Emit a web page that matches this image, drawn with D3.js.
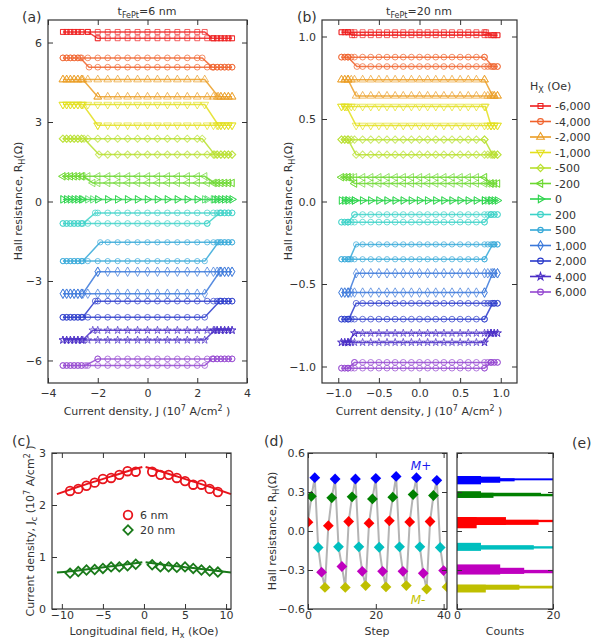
<!DOCTYPE html>
<html>
<head>
<meta charset="utf-8">
<script src="https://cdn.jsdelivr.net/npm/d3@7"></script>
<style>
body { margin: 0; background: #fff; }
text { font-family: "DejaVu Sans", sans-serif; fill: #333; }
.axis text { font-size: 11px; fill: #333; }
.lab { font-size: 11px; }
.plab { font-size: 14px; }
</style>
</head>
<body>
<div id="chart"></div>
<script>
// ---- data: panels (a) and (b), one loop per longitudinal field
const hxLabels = ["-6,000","-4,000","-2,000","-1,000","-500","-200","0","200","500","1,000","2,000","4,000","6,000"];
const hxColors = ["#ee1f1f","#f0622c","#eb9d24","#e3df1c","#b7e02c","#6cd830","#2cd44c","#3cd2c8","#34a8d8","#3a78da","#2a3acb","#4a2ec6","#9446d0"];

// level at the negative-current end and at the positive-current end (ohm)
const aLeftLevel  = [6.40, 5.42, 4.60, 3.66, 2.37, 0.95, 0.08, -0.83, -2.25, -3.48, -4.37, -5.23, -6.19];
const aRightLevel = [6.16, 5.07, 3.95, 2.88, 1.77, 0.70, 0.08, -0.43, -1.54, -2.65, -3.76, -4.86, -5.94];
// switching on the up sweep (start, end) and on the down sweep (start, end), 10^7 A/cm2
const aUpSwitch   = [[2.3,2.6],[2.2,2.6],[2.3,2.85],[2.3,2.85],[2.2,2.7],[2.3,2.7],[2.3,2.7],[2.4,2.9],[2.3,2.85],[2.3,2.9],[2.3,2.9],[2.3,2.7],[2.3,2.6]];
const aDownSwitch = [[-2.0,-2.4],[-2.35,-2.7],[-2.0,-2.6],[-2.0,-2.6],[-1.95,-2.55],[-2.2,-2.6],[-2.2,-2.6],[-2.1,-2.6],[-1.9,-2.6],[-2.0,-2.6],[-2.1,-2.6],[-2.2,-2.6],[-2.0,-2.5]];
const aCurrent = [-3.4,-3.25,-3.1,-2.95,-2.8,-2.65,-2.4,-2.0,-1.6,-1.2,-0.8,-0.4,0,0.4,0.8,1.2,1.6,2.0,2.4,2.65,2.8,2.95,3.1,3.25,3.4];

const bLeftLevel  = [1.026, 0.875, 0.738, 0.576, 0.375, 0.147, 0.006, -0.125, -0.350, -0.552, -0.713, -0.854, -1.010];
const bRightLevel = [1.008, 0.818, 0.640, 0.461, 0.284, 0.109, 0.006, -0.079, -0.260, -0.435, -0.617, -0.798, -0.975];
const bUpSwitch   = [[0.82,0.9],[0.8,0.9],[0.8,0.9],[0.81,0.88],[0.8,0.9],[0.8,0.88],[0.8,0.88],[0.8,0.88],[0.8,0.9],[0.8,0.9],[0.8,0.9],[0.8,0.88],[0.8,0.88]];
const bDownSwitch = [[-0.83,-0.88],[-0.77,-0.88],[-0.78,-0.88],[-0.78,-0.9],[-0.78,-0.88],[-0.8,-0.88],[-0.8,-0.88],[-0.8,-0.88],[-0.78,-0.86],[-0.78,-0.87],[-0.78,-0.87],[-0.8,-0.88],[-0.8,-0.88]];
const bCurrent = [-0.96,-0.92,-0.88,-0.84,-0.8,-0.7,-0.6,-0.5,-0.4,-0.3,-0.2,-0.1,0,0.1,0.2,0.3,0.4,0.5,0.6,0.7,0.8,0.84,0.88,0.92,0.96];

// ---- data: panel (c)
const cField = [-9,-8,-7,-6,-5,-4,-3,-2,-1,1,2,3,4,5,6,7,8,9];
const c6nm  = [2.27,2.31,2.37,2.43,2.50,2.52,2.58,2.65,2.64,2.64,2.58,2.58,2.52,2.46,2.39,2.39,2.31,2.25];
const c20nm = [0.69,0.72,0.75,0.76,0.78,0.81,0.81,0.83,0.86,0.85,0.81,0.81,0.80,0.81,0.78,0.75,0.73,0.71];
const fitFieldNeg = [-10.6,-8,-6,-4,-2,-0.2];
const fitFieldPos = [0.2,2,4,6,8,10.6];
const fit6Neg  = [2.21,2.35,2.45,2.55,2.65,2.73];
const fit6Pos  = [2.73,2.65,2.55,2.45,2.35,2.21];
const fit20Neg = [0.70,0.74,0.78,0.82,0.86,0.90];
const fit20Pos = [0.90,0.86,0.82,0.79,0.75,0.70];

// ---- data: panels (d) and (e)
const stateColors = ["#ff0000","#008000","#0000ff","#00bfbf","#bf00bf","#bfbf00"];
const dSteps = [0,1,2,3,4,5,6,7,8,9,10,11,12,13,14,15,16,17,18,19,20,21,22,23,24,25,26,27,28,29,30,31,32,33,34,35,36,37,38,39,40,41];
const dResistance = [
  0.068,0.267,0.41,-0.127,-0.317,-0.434,
  0.041,0.255,0.40,-0.122,-0.273,-0.434,
  0.073,0.263,0.40,-0.122,-0.31,-0.42,
  0.060,0.247,0.405,-0.125,-0.31,-0.43,
  0.078,0.260,0.42,-0.122,-0.31,-0.42,
  0.070,0.280,0.41,-0.122,-0.325,-0.447,
  0.073,0.273,0.39,-0.127,-0.304,-0.43];
// histogram blocks: [from, to, counts], per state, same order as stateColors
const eRed     = [[0.021,0.107,4.1],[0.047,0.107,10.2],[0.047,0.086,17],[0.068,0.086,20]];
const eGreen   = [[0.255,0.306,5],[0.255,0.294,7.6],[0.273,0.294,17.5],[0.267,0.286,20]];
const eBlue    = [[0.359,0.423,5],[0.371,0.418,9],[0.382,0.405,12],[0.39,0.405,20]];
const eCyan    = [[-0.153,-0.091,5],[-0.143,-0.109,16],[-0.135,-0.117,20]];
const eMagenta = [[-0.335,-0.257,9],[-0.33,-0.283,14],[-0.325,-0.299,20]];
const eOlive   = [[-0.473,-0.413,6],[-0.452,-0.413,13],[-0.442,-0.421,20]];

const svg = d3.select("#chart").append("svg")
  .attr("width", 601).attr("height", 640);

// box with inward ticks on four sides
function frame(x, y, xt, yt, fx, fy, pad, padX) {
  pad = pad || 6;
  padX = padX || 6;
  const g = svg.append("g").attr("class", "axis");
  const [x0, x1] = x.range(), [y1, y0] = y.range();
  g.append("g").attr("transform", "translate(0," + y1 + ")")
    .call(d3.axisBottom(x).tickValues(xt).tickFormat(fx).tickSizeInner(-5).tickSizeOuter(0).tickPadding(padX));
  g.append("g").attr("transform", "translate(0," + y0 + ")")
    .call(d3.axisTop(x).tickValues(xt).tickFormat("").tickSizeInner(-5).tickSizeOuter(0));
  g.append("g").attr("transform", "translate(" + x0 + ",0)")
    .call(d3.axisLeft(y).tickValues(yt).tickFormat(fy).tickSizeInner(-5).tickSizeOuter(0).tickPadding(pad));
  g.append("g").attr("transform", "translate(" + x1 + ",0)")
    .call(d3.axisRight(y).tickValues(yt).tickFormat("").tickSizeInner(-5).tickSizeOuter(0));
  g.selectAll(".domain").remove();
  g.selectAll(".tick line").attr("stroke", "#333");
  svg.append("rect").attr("x", x0).attr("y", y0).attr("width", x1 - x0).attr("height", y1 - y0)
    .attr("fill", "none").attr("stroke", "#333").attr("stroke-width", 1.2);
}

function yLabel(x, y, parts) {
  const t = svg.append("text").attr("class", "lab").attr("text-anchor", "middle")
    .attr("transform", "translate(" + x + "," + y + ") rotate(-90)");
  addParts(t, parts);
}
function xLabel(x, y, parts) {
  const t = svg.append("text").attr("class", "lab").attr("text-anchor", "middle")
    .attr("x", x).attr("y", y);
  addParts(t, parts);
}
// parts: [text, "sub"|"sup"|undefined]
function addParts(t, parts) {
  let shift = 0;
  parts.forEach(function(p) {
    const want = p[1] === "sub" ? 3 : p[1] === "sup" ? -4 : 0;
    t.append("tspan").attr("dy", want - shift).style("font-size", p[1] ? "8px" : null).text(p[0]);
    shift = want;
  });
}

const symbols = [
  {t: d3.symbolSquare, s: 24, r: 0},
  {t: d3.symbolCircle, s: 26, r: 0},
  {t: d3.symbolTriangle, s: 26, r: 0},
  {t: d3.symbolTriangle, s: 26, r: 180},
  {t: d3.symbolSquare, s: 26, r: 45},
  {t: d3.symbolTriangle, s: 24, r: -90},
  {t: d3.symbolTriangle, s: 24, r: 90},
  {t: d3.symbolCircle, s: 26, r: 0},
  {t: d3.symbolCircle, s: 22, r: 0},
  {t: d3.symbolDiamond, s: 26, r: 0},
  {t: d3.symbolCircle, s: 26, r: 0},
  {t: d3.symbolStar, s: 18, r: 0},
  {t: d3.symbolCircle, s: 26, r: 0}
];

function loops(x, y, left, right, up, down, grid) {
  const jmax = grid[grid.length - 1];
  const line = d3.line().x(function(d) { return x(d[0]); }).y(function(d) { return y(d[1]); });
  left.forEach(function(L, i) {
    const R = right[i], u = up[i], dn = down[i], c = hxColors[i];
    const path = [[-jmax, L], [u[0], L], [u[1], R], [jmax, R], [dn[0], R], [dn[1], L], [-jmax, L]];
    const pts = [[u[0], L], [u[1], R], [dn[0], R], [dn[1], L]];
    grid.forEach(function(j) {
      if (j <= u[0]) pts.push([j, L]); else if (j >= u[1]) pts.push([j, R]);
      if (j >= dn[0]) pts.push([j, R]); else if (j <= dn[1]) pts.push([j, L]);
    });
    const g = svg.append("g");
    g.append("path").attr("d", line(path)).attr("fill", "none")
      .attr("stroke", c).attr("stroke-width", 1.5).attr("stroke-opacity", 0.85);
    const sym = symbols[i];
    g.selectAll("path.m").data(pts).enter().append("path").attr("class", "m")
      .attr("d", d3.symbol().type(sym.t).size(sym.s))
      .attr("transform", function(d) { return "translate(" + x(d[0]) + "," + y(d[1]) + ") rotate(" + sym.r + ")"; })
      .attr("fill", "none").attr("stroke", c).attr("stroke-width", 1).attr("stroke-opacity", 0.7);
  });
}

// ---- panel (a)
const xa = d3.scaleLinear().domain([-4, 4]).range([48, 247]);
const ya = d3.scaleLinear().domain([-6.85, 6.85]).range([383, 20]);
loops(xa, ya, aLeftLevel, aRightLevel, aUpSwitch, aDownSwitch, aCurrent);
frame(xa, ya, [-4,-2,0,2,4], [-6,-3,0,3,6], d3.format("d"), d3.format("d"));

// ---- panel (b)
const xb = d3.scaleLinear().domain([-1.2, 1.2]).range([322, 517]);
const yb = d3.scaleLinear().domain([-1.1, 1.1]).range([383, 20]);
loops(xb, yb, bLeftLevel, bRightLevel, bUpSwitch, bDownSwitch, bCurrent);
frame(xb, yb, [-1,-0.5,0,0.5,1], [-1,-0.5,0,0.5,1], d3.format(".1f"), d3.format(".1f"));

const jLabel = [["Current density, J (10"], ["7", "sup"], ["  A/cm"], ["2", "sup"], [" )"]];
xLabel(147, 415, jLabel);
xLabel(419, 415, jLabel);
const rLabel = [["Hall resistance, R"], ["H", "sub"], ["(Ω)"]];
yLabel(22, 201, rLabel);
yLabel(292, 201, rLabel);
xLabel(147, 15, [["t"], ["FePt", "sub"], ["=6 nm"]]);
xLabel(419, 15, [["t"], ["FePt", "sub"], ["=20 nm"]]);
svg.append("text").attr("class", "plab").attr("x", 22).attr("y", 22).text("(a)");
svg.append("text").attr("class", "plab").attr("x", 297).attr("y", 22).text("(b)");

// legend for (a)/(b)
const leg = svg.append("g");
const t0 = leg.append("text").attr("class", "lab").attr("x", 530).attr("y", 90);
addParts(t0, [["H"], ["X", "sub"], [" (Oe)"]]);
hxLabels.forEach(function(lbl, i) {
  const yy = 106 + i * 15.5, sym = symbols[i];
  leg.append("line").attr("x1", 530).attr("x2", 551).attr("y1", yy).attr("y2", yy)
    .attr("stroke", hxColors[i]).attr("stroke-width", 1.6);
  leg.append("path").attr("d", d3.symbol().type(sym.t).size(sym.s))
    .attr("transform", "translate(540.5," + yy + ") rotate(" + sym.r + ")")
    .attr("fill", "none").attr("stroke", hxColors[i]).attr("stroke-width", 1.1);
  leg.append("text").attr("class", "lab").attr("x", 555).attr("y", yy + 4).text(lbl);
});

// ---- panel (c)
const xc = d3.scaleLinear().domain([-11.2, 10.6]).range([52, 231]);
const yc = d3.scaleLinear().domain([0, 3]).range([609, 453]);
const fitLine = d3.line().curve(d3.curveNatural)
  .x(function(d) { return xc(d[0]); }).y(function(d) { return yc(d[1]); });
[[fitFieldNeg, fit6Neg, "#e8141c"], [fitFieldPos, fit6Pos, "#e8141c"],
 [fitFieldNeg, fit20Neg, "#1a7a1a"], [fitFieldPos, fit20Pos, "#1a7a1a"]].forEach(function(f) {
  svg.append("path").attr("d", fitLine(f[0].map(function(h, i) { return [h, f[1][i]]; })))
    .attr("fill", "none").attr("stroke", f[2]).attr("stroke-width", 2);
});
svg.append("g").selectAll("circle").data(cField).enter().append("circle")
  .attr("cx", function(d) { return xc(d); })
  .attr("cy", function(d, i) { return yc(c6nm[i]); })
  .attr("r", 4.3).attr("fill", "none").attr("stroke", "#e8141c").attr("stroke-width", 1.8);
const dia = d3.symbol().type(d3.symbolSquare).size(44);
svg.append("g").selectAll("path").data(cField).enter().append("path")
  .attr("d", dia)
  .attr("transform", function(d, i) { return "translate(" + xc(d) + "," + yc(c20nm[i]) + ") rotate(45)"; })
  .attr("fill", "none").attr("stroke", "#1a7a1a").attr("stroke-width", 1.8);
frame(xc, yc, [-10,-5,0,5,10], [0,1,2,3], d3.format("d"), d3.format("d"), 6, 2);
svg.append("circle").attr("cx", 128).attr("cy", 515).attr("r", 4.3)
  .attr("fill", "none").attr("stroke", "#e8141c").attr("stroke-width", 1.8);
svg.append("path").attr("d", dia).attr("transform", "translate(128,530) rotate(45)")
  .attr("fill", "none").attr("stroke", "#1a7a1a").attr("stroke-width", 1.8);
svg.append("text").attr("class", "lab").attr("x", 140).attr("y", 519).text("6 nm");
svg.append("text").attr("class", "lab").attr("x", 140).attr("y", 534).text("20 nm");
yLabel(34, 531, [["Current density, J"], ["c", "sub"], [" (10"], ["7", "sup"], [" A/cm"], ["2", "sup"], [" )"]]);
xLabel(144, 635, [["Longitudinal field, H"], ["x", "sub"], [" (kOe)"]]);
svg.append("text").attr("class", "plab").attr("x", 12).attr("y", 446).text("(c)");

// ---- panel (d)
const xd = d3.scaleLinear().domain([0, 41]).range([308, 447]);
const yd = d3.scaleLinear().domain([-0.6, 0.6]).range([609, 453]);
svg.append("clipPath").attr("id", "clipd").append("rect")
  .attr("x", 308).attr("y", 453).attr("width", 139).attr("height", 156);
const gd = svg.append("g").attr("clip-path", "url(#clipd)");
gd.append("path")
  .attr("d", d3.line().x(function(d) { return xd(d); }).y(function(d, i) { return yd(dResistance[i]); })(dSteps))
  .attr("fill", "none").attr("stroke", "#b4b4b4").attr("stroke-width", 2);
gd.selectAll("path.pt").data(dSteps).enter().append("path").attr("class", "pt")
  .attr("d", d3.symbol().type(d3.symbolSquare).size(58))
  .attr("transform", function(d, i) { return "translate(" + xd(d) + "," + yd(dResistance[i]) + ") rotate(45)"; })
  .attr("fill", function(d, i) { return stateColors[i % 6]; });
frame(xd, yd, [0,20,40], [-0.6,-0.3,0,0.3,0.6], d3.format("d"), d3.format(".1f"), 3, 2);
svg.append("text").attr("x", 421).attr("y", 470).attr("text-anchor", "middle")
  .style("font-size", "12px").style("font-style", "italic").style("fill", "#1a1aee").text("M+");
svg.append("text").attr("x", 418).attr("y", 604).attr("text-anchor", "middle")
  .style("font-size", "12px").style("font-style", "italic").style("fill", "#c4c400").text("M-");
yLabel(276, 531, rLabel);
xLabel(377, 635, [["Step"]]);
svg.append("text").attr("class", "plab").attr("x", 264).attr("y", 446).text("(d)");

// ---- panel (e)
const xe = d3.scaleLinear().domain([0, 20]).range([457, 553]);
const ye = yd.copy();
const hist = [eRed, eGreen, eBlue, eCyan, eMagenta, eOlive];
hist.forEach(function(bins, k) {
  svg.append("g").selectAll("rect").data(bins).enter().append("rect")
    .attr("x", xe(0))
    .attr("y", function(d) { return ye(d[1]); })
    .attr("width", function(d) { return xe(d[2]) - xe(0); })
    .attr("height", function(d) { return ye(d[0]) - ye(d[1]); })
    .attr("fill", stateColors[k]);
});
frame(xe, ye, [0,20], [-0.6,-0.3,0,0.3,0.6], d3.format("d"), "", 6, 2);
xLabel(505, 635, [["Counts"]]);
svg.append("text").attr("class", "plab").attr("x", 572).attr("y", 448).text("(e)");
</script>
</body>
</html>
